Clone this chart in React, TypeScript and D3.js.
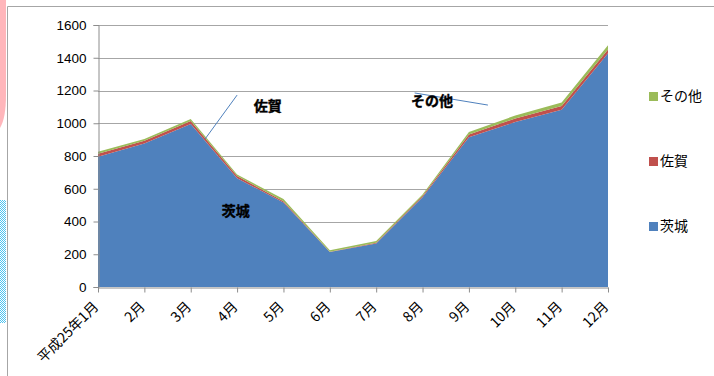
import React, { useRef, useEffect } from 'react'
import * as d3 from 'd3'

// chart data
const months = ['平成25年1月', '2月', '3月', '4月', '5月', '6月', '7月', '8月', '9月', '10月', '11月', '12月']
const ibaraki = [796, 876, 996, 664, 516, 213, 266, 548, 915, 1007, 1083, 1427]
const saga = [18, 17, 17, 14, 8, 2, 4, 7, 16, 22, 22, 24]
const other = [12, 11, 13, 9, 14, 10, 11, 10, 16, 18, 22, 25]
const seriesNames = ['茨城', '佐賀', 'その他']
const seriesColors = ['#4F81BD', '#C0504D', '#9BBB59']
const yTicks = [0, 200, 400, 600, 800, 1000, 1200, 1400, 1600]

// data labels: position in category index / value units
const labels = [
  { text: '佐賀', i: 3.36, v: 1075, line: [[3.0, 1172], [2.31, 904]] },
  { text: 'その他', i: 6.75, v: 1105, line: [[6.83, 1185], [8.41, 1111]] },
  { text: '茨城', i: 2.67, v: 434, line: null },
]

const width = 714
const height = 376
const margin = { top: 25, right: 106, bottom: 89, left: 98 }

const App = () => {
  const svgRef = useRef(null)

  useEffect(() => {
    const svg = d3.select(svgRef.current)
    svg.selectAll('*').remove()

    const rows = months.map((m, i) => ({ month: m, '茨城': ibaraki[i], '佐賀': saga[i], 'その他': other[i] }))
    const stacked = d3.stack().keys(seriesNames)(rows)

    const x = d3.scalePoint().domain(months).range([margin.left, width - margin.right]).padding(0)
    const xi = d3.scaleLinear().domain([0, months.length - 1]).range([margin.left, width - margin.right])
    const y = d3.scaleLinear().domain([0, 1600]).range([height - margin.bottom, margin.top])

    // page decorations behind the chart
    const defs = svg.append('defs')
    const pat = defs.append('pattern').attr('id', 'chk').attr('width', 2).attr('height', 2).attr('patternUnits', 'userSpaceOnUse')
    pat.append('rect').attr('width', 2).attr('height', 2).attr('fill', '#ffffff')
    pat.append('rect').attr('width', 1).attr('height', 1).attr('fill', '#4fc3f0')
    pat.append('rect').attr('x', 1).attr('y', 1).attr('width', 1).attr('height', 1).attr('fill', '#4fc3f0')

    svg.append('rect').attr('width', width).attr('height', height).attr('fill', '#fff')
    svg.append('path').attr('d', 'M0,0 L6,0 L6,95 Q6,118 0,128 Z').attr('fill', '#ffb6bb')
    svg.append('rect').attr('x', 0).attr('y', 200).attr('width', 6).attr('height', 123).attr('fill', 'url(#chk)')

    // chart frame
    svg.append('path').attr('d', `M7.5,${height} V6.5 H${width}`).attr('fill', 'none').attr('stroke', '#a6a6a6')

    // gridlines
    svg.append('g').selectAll('line').data(yTicks.slice(1)).join('line')
      .attr('x1', margin.left).attr('x2', width - margin.right)
      .attr('y1', d => Math.round(y(d)) + 0.5).attr('y2', d => Math.round(y(d)) + 0.5)
      .attr('stroke', '#a6a6a6').attr('stroke-width', 1.2)

    // stacked areas
    const area = d3.area()
      .x(d => x(d.data.month))
      .y0(d => y(d[0]))
      .y1(d => y(d[1]))
    svg.append('g').selectAll('path').data(stacked).join('path')
      .attr('fill', (d, i) => seriesColors[i])
      .attr('d', area)

    // y axis
    const yAxis = svg.append('g').attr('transform', `translate(${margin.left + 0.5},0)`)
      .call(d3.axisLeft(y).tickValues(yTicks).tickFormat(d3.format('d')).tickSize(5).tickPadding(7))
    yAxis.select('.domain').attr('stroke', '#8c8c8c')
    yAxis.selectAll('.tick line').attr('stroke', '#8c8c8c')
    yAxis.selectAll('text').attr('font-family', 'Liberation Sans, Arial, sans-serif').attr('font-size', 13.5).attr('fill', '#000')

    // x axis
    const xAxis = svg.append('g').attr('transform', `translate(0,${height - margin.bottom + 0.5})`)
      .call(d3.axisBottom(x).tickSize(5).tickSizeOuter(0))
    xAxis.select('.domain').attr('stroke', '#8c8c8c')
    xAxis.selectAll('.tick line').attr('stroke', '#8c8c8c')
    xAxis.selectAll('text')
      .attr('font-family', 'Noto Sans CJK JP, sans-serif').attr('font-size', 14).attr('fill', '#000')
      .attr('text-anchor', 'end').attr('dy', 0)
      .attr('transform', 'translate(1,20) rotate(-45)')
      .attr('y', 0).attr('x', 0)

    // data labels with leader lines
    labels.forEach(l => {
      if (l.line) {
        svg.append('line')
          .attr('x1', xi(l.line[0][0])).attr('y1', y(l.line[0][1]))
          .attr('x2', xi(l.line[1][0])).attr('y2', y(l.line[1][1]))
          .attr('stroke', '#4F81BD').attr('stroke-width', 1)
      }
      svg.append('text')
        .attr('x', xi(l.i)).attr('y', y(l.v))
        .attr('font-family', 'Noto Sans CJK JP, sans-serif').attr('font-size', 14).attr('font-weight', 'bold')
        .attr('fill', '#000').attr('stroke', '#000').attr('stroke-width', 0.4)
        .text(l.text)
    })

    // legend (reverse order, top to bottom)
    const legendY = [96, 161, 226]
    const legend = svg.append('g')
    seriesNames.slice().reverse().forEach((name, k) => {
      const idx = seriesNames.length - 1 - k
      legend.append('rect').attr('x', 649).attr('y', legendY[k] - 4).attr('width', 9).attr('height', 9).attr('fill', seriesColors[idx])
      legend.append('text').attr('x', 660).attr('y', legendY[k] + 5)
        .attr('font-family', 'Noto Sans CJK JP, sans-serif').attr('font-size', 14).attr('fill', '#000')
        .text(name)
    })
  }, [])

  return (
    <div style={{ position: 'absolute', left: 0, top: 0 }}>
      <svg ref={svgRef} width={width} height={height} style={{ display: 'block' }}></svg>
    </div>
  )
}

export default App
